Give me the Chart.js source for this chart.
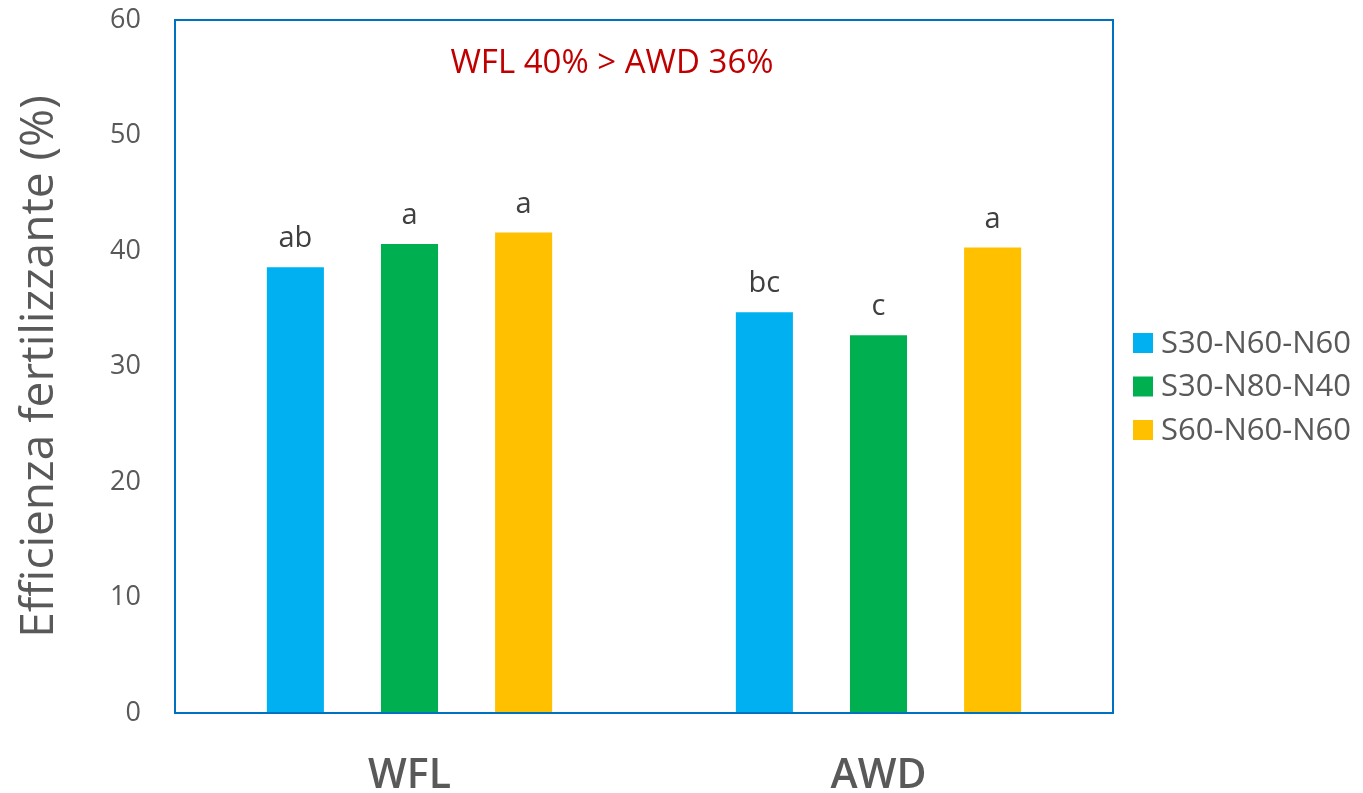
<!DOCTYPE html>
<html>
<head>
<meta charset="utf-8">
<script src="https://cdn.jsdelivr.net/npm/chart.js@4/dist/chart.umd.min.js"></script>
<style>
  html, body { margin: 0; padding: 0; background: #fff; }
  #wrap { width: 1363px; height: 793px; position: relative; }
</style>
</head>
<body>
<div id="wrap"><canvas id="chart"></canvas></div>
<script>
// data
const categories = ["WFL", "AWD"];
const seriesNames = ["S30-N60-N60", "S30-N80-N40", "S60-N60-N60"];
const seriesColors = ["#00B0F0", "#00B050", "#FFC000"];
const s30n60n60 = [38.6, 34.7];
const s30n80n40 = [40.6, 32.7];
const s60n60n60 = [41.6, 40.3];
const letters = [["ab", "bc"], ["a", "c"], ["a", "a"]];
const yTicks = [0, 10, 20, 30, 40, 50, 60];
const note = "WFL 40% > AWD 36%";

const FONT = "'Open Sans', 'Noto Sans', sans-serif";
const GREY = "#595959";
const BLUE = "#0070C0";

// draws the box, the letters over the bars, the note and the legend
const extras = {
  id: "extras",
  afterDraw(chart) {
    const ctx = chart.ctx;
    const a = chart.chartArea;
    ctx.save();
    ctx.strokeStyle = BLUE;
    ctx.lineWidth = 2;
    ctx.strokeRect(a.left, a.top, a.right - a.left, a.bottom - a.top);

    // significance letters
    ctx.fillStyle = "#404040";
    ctx.font = "29px " + FONT;
    ctx.textAlign = "center";
    ctx.textBaseline = "alphabetic";
    chart.data.datasets.forEach(function (ds, i) {
      chart.getDatasetMeta(i).data.forEach(function (bar, j) {
        ctx.fillText(letters[i][j], bar.x, bar.y - 20);
      });
    });

    // note
    ctx.fillStyle = "#C00000";
    ctx.font = "33px " + FONT;
    ctx.textBaseline = "middle";
    ctx.fillText(note, 612, 64);

    // legend
    ctx.textAlign = "left";
    ctx.font = "31px " + FONT;
    chart.data.datasets.forEach(function (ds, i) {
      const y = 343 + i * 43.5;
      ctx.fillStyle = ds.backgroundColor;
      ctx.fillRect(1133, y - 10, 20, 20);
      ctx.fillStyle = GREY;
      ctx.fillText(ds.label, 1161, y + 1);
    });
    ctx.restore();
  }
};

const seriesValues = [s30n60n60, s30n80n40, s60n60n60];
const datasets = seriesNames.map(function (name, i) {
  return {
    label: name,
    data: seriesValues[i],
    backgroundColor: seriesColors[i],
    barPercentage: 0.5,
    categoryPercentage: 0.73
  };
});

new Chart(document.getElementById("chart"), {
  type: "bar",
  data: { labels: categories, datasets: datasets },
  plugins: [extras],
  options: {
    responsive: true,
    maintainAspectRatio: false,
    animation: false,
    layout: { padding: { left: 0, right: 250, top: 20, bottom: 0 } },
    plugins: {
      legend: { display: false },
      tooltip: { enabled: false }
    },
    scales: {
      x: {
        grid: { display: false, drawTicks: false },
        border: { display: false },
        ticks: { color: GREY, font: { family: FONT, size: 41, weight: "600" }, padding: 39 },
        afterFit: function (scale) { scale.height = 80; }
      },
      y: {
        min: 0,
        max: 60,
        afterBuildTicks: function (scale) {
          scale.ticks = yTicks.map(function (v) { return { value: v }; });
        },
        grid: { display: false, drawTicks: false },
        border: { display: false },
        ticks: { color: GREY, font: { family: FONT, size: 27 }, padding: 34 },
        title: {
          display: true,
          text: "Efficienza fertilizzante (%)",
          color: GREY,
          font: { family: FONT, size: 46 },
          padding: { top: 12, bottom: 0 }
        },
        afterFit: function (scale) {
          scale.width = 175;
          scale.paddingTop = 0;
          scale.paddingBottom = 0;
        }
      }
    }
  }
});
</script>
</body>
</html>
